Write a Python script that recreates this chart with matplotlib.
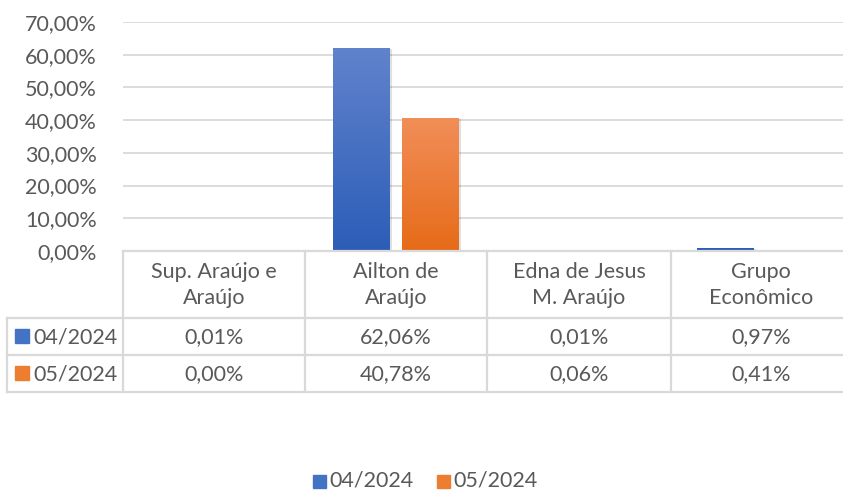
import matplotlib
matplotlib.use("Agg")
import matplotlib.pyplot as plt
import numpy as np
from matplotlib.colors import LinearSegmentedColormap

plt.rcParams['font.family'] = ['Lato', 'DejaVu Sans']

categories = ['Sup. Araújo e\nAraújo', 'Ailton de\nAraújo', 'Edna de Jesus\nM. Araújo', 'Grupo\nEconômico']
series_names = ['04/2024', '05/2024']
values_apr = [0.01, 62.06, 0.01, 0.97]
values_may = [0.00, 40.78, 0.06, 0.41]
yticks = [0, 10, 20, 30, 40, 50, 60, 70]

W, H = 843, 490
FS = 15.5
text_color = '#595959'
grid_color = '#d9d9d9'
blue_top, blue_bot = '#6183cc', '#2c5db7'
orange_top, orange_bot = '#f28e59', '#e66b18'


def fmt(v):
    return f'{v:.2f}%'.replace('.', ',')


fig = plt.figure(figsize=(W / 100, H / 100), dpi=100)
# plot area runs slightly past the right edge, like the original
ax = fig.add_axes([123 / W, (H - 251) / H, 728 / W, 229 / H])

x = np.arange(len(categories))
width = 0.313
offset = 0.19


def gradient_bars(xs, vals, top, bot):
    cmap = LinearSegmentedColormap.from_list('g', [bot, top])
    bars = ax.bar(xs, vals, width, color='none', zorder=3)
    grad = np.linspace(0, 1, 256).reshape(-1, 1)
    for b in bars:
        if b.get_height() <= 0:
            continue
        # soft shadow
        ax.bar(b.get_x() + b.get_width() / 2 + 0.012, b.get_height(), width,
               bottom=-0.4, color='#000000', alpha=0.12, zorder=2)
        im = ax.imshow(grad, cmap=cmap, aspect='auto', origin='lower',
                       extent=[b.get_x(), b.get_x() + b.get_width(), 0, b.get_height()],
                       zorder=3, interpolation='bilinear')
        im.set_clip_path(b)
        if b.get_height() < 2:
            # tiny bars: draw a solid sliver so they stay visible
            ax.bar(b.get_x() + b.get_width() / 2, b.get_height(), width,
                   color=bot, zorder=4)
    return bars


gradient_bars(x - offset, values_apr, blue_top, blue_bot)
gradient_bars(x + offset, values_may, orange_top, orange_bot)

ax.set_xlim(-0.5, len(categories) - 0.5)
ax.set_ylim(0, 70)
ax.set_yticks(yticks)
ax.set_yticklabels([fmt(t) for t in yticks], fontsize=FS, color=text_color)
ax.yaxis.grid(True, color=grid_color, linewidth=1.3, zorder=0)
ax.set_xticks([])
ax.tick_params(axis='y', length=0, pad=19)
for s in ax.spines.values():
    s.set_visible(False)

# data table drawn in pixel space
tab = fig.add_axes([0, 0, 1, 1], zorder=5)
tab.set_xlim(0, W)
tab.set_ylim(H, 0)
tab.axis('off')
tab.patch.set_alpha(0)

col_edges = [123, 305, 487, 671, 851]
row_edges = [251, 318, 355, 392]
lc = '#d9d9d9'
tab.plot([123, 843], [251, 251], color=lc, lw=1.6)
for ye in row_edges[1:]:
    tab.plot([7, 843], [ye, ye], color=lc, lw=1.6)
for xe in col_edges:
    tab.plot([xe, xe], [251, 392], color=lc, lw=1.6)
tab.plot([7, 7], [318, 392], color=lc, lw=1.6)

for i, cat in enumerate(categories):
    cx = (col_edges[i] + col_edges[i + 1]) / 2
    tab.text(cx, 285, cat, ha='center', va='center', fontsize=FS,
             color=text_color, linespacing=1.4)
    tab.text(cx, 337, fmt(values_apr[i]), ha='center', va='center', fontsize=FS, color=text_color)
    tab.text(cx, 374, fmt(values_may[i]), ha='center', va='center', fontsize=FS, color=text_color)

for name, yc, col in [(series_names[0], 336, '#4472c4'), (series_names[1], 373, '#ed7d31')]:
    tab.add_patch(plt.Rectangle((15, yc - 7), 14, 14, color=col))
    tab.text(33, yc + 1, name, ha='left', va='center', fontsize=FS, color=text_color)

# legend
for name, lx, col in [(series_names[0], 313, '#4472c4'), (series_names[1], 437, '#ed7d31')]:
    tab.add_patch(plt.Rectangle((lx, 475), 13, 13, color=col))
    tab.text(lx + 16, 480, name, ha='left', va='center', fontsize=FS, color=text_color)

fig.savefig('out.png', dpi=100)
